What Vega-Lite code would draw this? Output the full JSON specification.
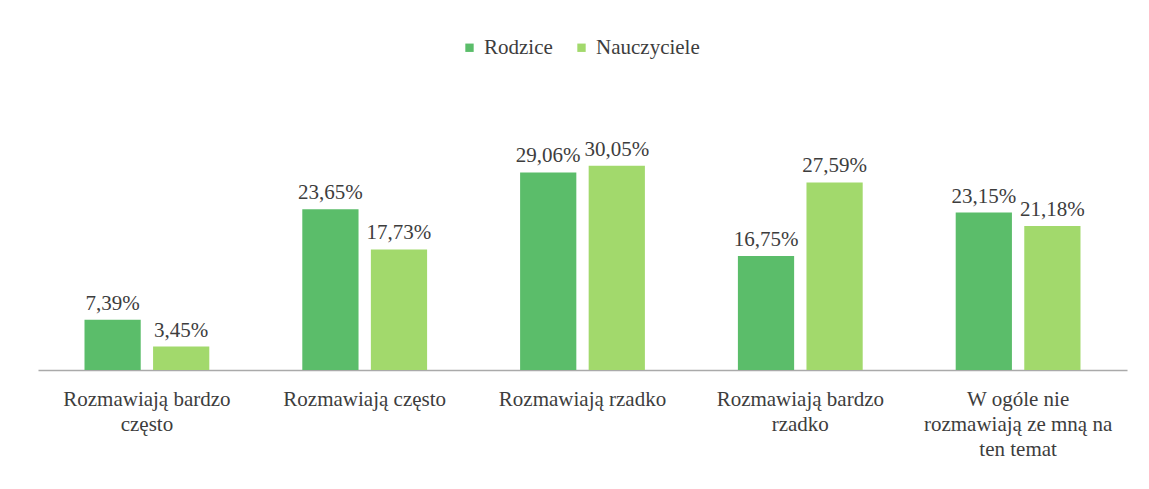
{
  "$schema": "https://vega.github.io/schema/vega-lite/v6.json",
  "autosize": {"type": "none"},
  "padding": {"left": 38, "top": 98, "right": 22, "bottom": 119},
  "width": 1089,
  "height": 272,
  "background": "white",
  "data": {
    "values": [
      {"kategoria": "Rozmawiają bardzo|często", "grupa": "Rodzice", "value": 7.39},
      {"kategoria": "Rozmawiają bardzo|często", "grupa": "Nauczyciele", "value": 3.45},
      {"kategoria": "Rozmawiają często", "grupa": "Rodzice", "value": 23.65},
      {"kategoria": "Rozmawiają często", "grupa": "Nauczyciele", "value": 17.73},
      {"kategoria": "Rozmawiają rzadko", "grupa": "Rodzice", "value": 29.06},
      {"kategoria": "Rozmawiają rzadko", "grupa": "Nauczyciele", "value": 30.05},
      {"kategoria": "Rozmawiają bardzo|rzadko", "grupa": "Rodzice", "value": 16.75},
      {"kategoria": "Rozmawiają bardzo|rzadko", "grupa": "Nauczyciele", "value": 27.59},
      {"kategoria": "W ogóle nie|rozmawiają ze mną na|ten temat", "grupa": "Rodzice", "value": 23.15},
      {"kategoria": "W ogóle nie|rozmawiają ze mną na|ten temat", "grupa": "Nauczyciele", "value": 21.18}
    ]
  },
  "transform": [
    {"calculate": "replace(format(datum.value, '.2f'), '.', ',') + '%'", "as": "etykieta"}
  ],
  "encoding": {
    "x": {
      "field": "kategoria",
      "type": "nominal",
      "sort": null,
      "scale": {"paddingInner": 0.427, "paddingOuter": 0.2135},
      "axis": {
        "title": null,
        "labelAngle": 0,
        "labelExpr": "split(datum.label, '|')",
        "labelFont": "Liberation Serif",
        "labelFontSize": 21,
        "labelColor": "#3d3d3d",
        "labelLineHeight": 25,
        "labelPadding": 18,
        "labelBaseline": "top",
        "labelLimit": 300,
        "ticks": false,
        "domainColor": "#aaaaaa",
        "domainWidth": 1.5
      }
    },
    "xOffset": {
      "field": "grupa",
      "type": "nominal",
      "sort": ["Rodzice", "Nauczyciele"],
      "scale": {"paddingInner": 0.18, "paddingOuter": 0}
    },
    "y": {
      "field": "value",
      "type": "quantitative",
      "scale": {"domain": [0, 40]},
      "axis": null
    }
  },
  "layer": [
    {
      "mark": {"type": "bar"},
      "encoding": {
        "color": {
          "field": "grupa",
          "type": "nominal",
          "sort": ["Rodzice", "Nauczyciele"],
          "scale": {"domain": ["Rodzice", "Nauczyciele"], "range": ["#5bbd6a", "#a2d96c"]},
          "legend": {
            "title": null,
            "orient": "none",
            "legendX": 421,
            "legendY": -61,
            "direction": "horizontal",
            "symbolType": "square",
            "symbolSize": 70,
            "labelFont": "Liberation Serif",
            "labelFontSize": 21,
            "labelColor": "#3d3d3d",
            "columnPadding": 18,
            "labelOffset": 4
          }
        }
      }
    },
    {
      "mark": {"type": "text", "baseline": "bottom", "dy": -6, "font": "Liberation Serif", "fontSize": 21, "color": "#3d3d3d"},
      "encoding": {
        "text": {"field": "etykieta", "type": "nominal"}
      }
    }
  ],
  "config": {
    "view": {"stroke": null},
    "axis": {"grid": false}
  }
}
